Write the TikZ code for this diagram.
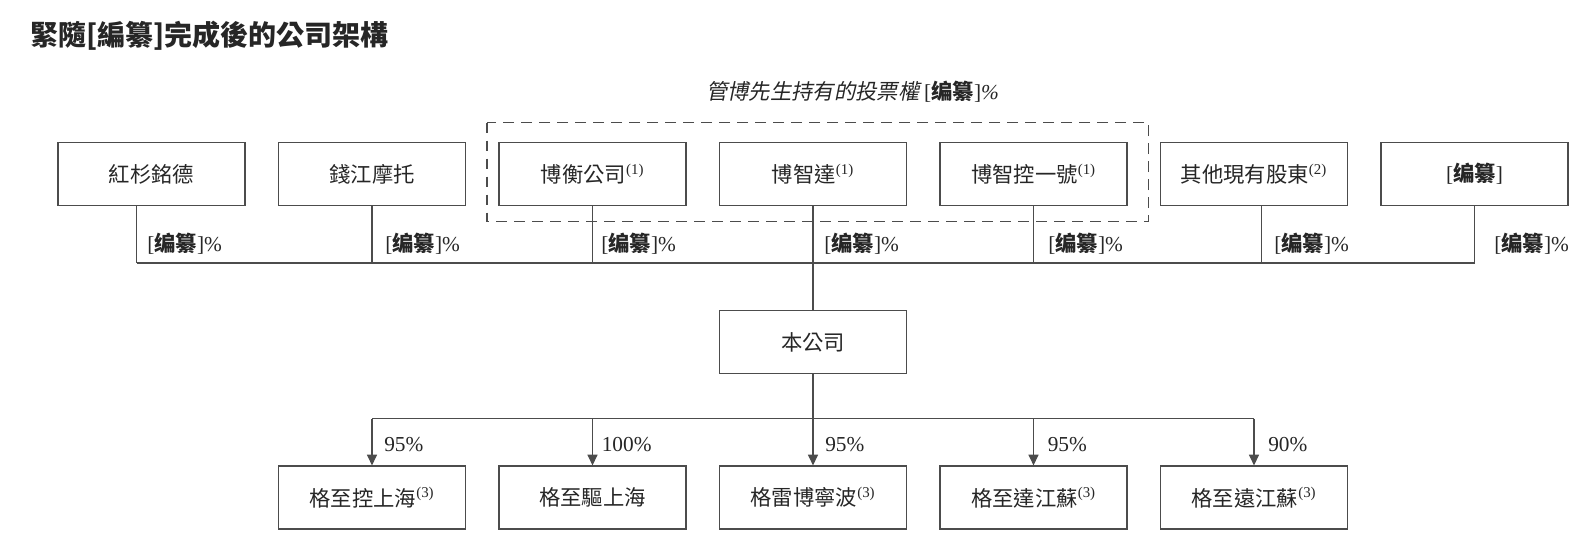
\documentclass[tikz,border=0pt]{standalone}
\usepackage{fontspec}
\setmainfont{Noto Sans CJK TC}
\newfontfamily\tnr{Liberation Serif}
\newfontfamily\cjkit{Noto Sans CJK TC}[FakeSlant=0.2]
\usetikzlibrary{arrows.meta}
\newcommand{\fnote}[1]{\textsuperscript{\tnr(#1)}}
\newcommand{\redact}{{\tnr[}{\rmfamily\bfseries 编纂}{\tnr]}}

\begin{document}
\begin{tikzpicture}[x=0.75pt, y=-0.75pt,
    every node/.style={text=black!85},
    box/.style={draw=black!70, line width=0.9pt, minimum width=140.25pt, minimum height=47.25pt, inner sep=0pt, font=\fontsize{16}{19}\selectfont},
    link/.style={draw=black!70, line width=0.9pt},
    pct/.style={anchor=west, inner sep=0pt, font=\fontsize{16}{19}\selectfont\tnr},
    group/.style={draw=black!70, line width=0.9pt, dash pattern=on 8pt off 5.5pt},
    >={Triangle[length=8pt, width=7.5pt]}]
    \useasboundingbox (0,0) rectangle (1596,540);
    \node[anchor=west, inner sep=0pt, font=\fontsize{21}{25}\selectfont\bfseries] (title) at (30,36) {緊隨[編纂]完成後的公司架構};
    \node[inner sep=0pt, font=\fontsize{16}{19}\selectfont] (vote) at (852.5,92)
        {\cjkit 管博先生持有的投票權 {\tnr[}{\rmfamily\bfseries 编纂}{\tnr]\itshape\%}};
    \draw[group] (487,122.5) rectangle (1148.5,221.5);
    \node[box] (hs) at (151.5,174) {紅杉銘德};
    \node[box] (qj) at (372,174) {錢江摩托};
    \node[box] (bh) at (592.5,174) {博衡公司\fnote{1}};
    \node[box] (bz) at (813,174) {博智達\fnote{1}};
    \node[box] (bk) at (1033.5,174) {博智控一號\fnote{1}};
    \node[box] (qt) at (1254,174) {其他現有股東\fnote{2}};
    \node[box] (bj) at (1474.5,174) {\redact};
    \coordinate (j1) at (136.7,263);
    \coordinate (j6) at (1261.7,263);
    \draw[link] (hs.south -| j1) -- (j1);
    \foreach \n in {qj,bh,bk,bj}
        \draw[link] (\n.south) -- (\n.south |- j1);
    \draw[link] (qt.south -| j6) -- (j6);
    \draw[link] (j1) -- (bj.south |- j1);
    \foreach \x/\n in {147/1,385/2,601/3,824/4,1048/5,1274/6,1494/7}
        \node[pct] (l\n) at (\x,243.5) {\redact\%};
    \node[box] (gs) at (813,342) {本公司};
    \draw[link] (bz.south) -- (gs.north);
    \node[box] (gzk) at (372,497.5) {格至控上海\fnote{3}};
    \node[box] (gzq) at (592.5,497.5) {格至驅上海};
    \node[box] (glb) at (813,497.5) {格雷博寧波\fnote{3}};
    \node[box] (gzd) at (1033.5,497.5) {格至達江蘇\fnote{3}};
    \node[box] (gzy) at (1254,497.5) {格至遠江蘇\fnote{3}};
    \coordinate (split) at (813,418.5);
    \draw[link] (gs.south) -- (split);
    \draw[link] (gzk.north |- split) -- (gzy.north |- split);
    \foreach \n in {gzk,gzq,glb,gzd,gzy}
        \draw[link, ->] (\n.north |- split) -- (\n.north);
    \node[pct] (p1) at (384,445) {95\%};
    \node[pct] (p2) at (601.5,445) {100\%};
    \node[pct] (p3) at (825,445) {95\%};
    \node[pct] (p4) at (1047.5,445) {95\%};
    \node[pct] (p5) at (1268,445) {90\%};
\end{tikzpicture}
\end{document}
